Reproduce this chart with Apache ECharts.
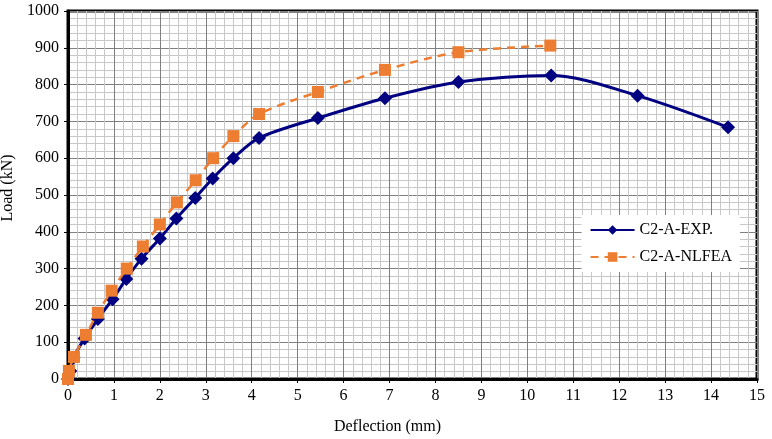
<!DOCTYPE html>
<html>
<head>
<meta charset="utf-8">
<script src="https://cdn.jsdelivr.net/npm/echarts@6/dist/echarts.min.js"></script>
<style>html,body{margin:0;padding:0;background:#fff}#c{width:772px;height:439px}</style>
</head>
<body>
<div id="c"></div>
<script>
const expX = [0, 0.05, 0.12, 0.36, 0.65, 0.97, 1.27, 1.6, 2.0, 2.36, 2.77, 3.15, 3.6, 4.16, 5.44, 6.9, 8.5, 10.52, 12.4, 14.37];
const expY = [0, 22, 58, 110, 163, 217, 272, 327, 382, 436, 492, 545, 600, 655, 709, 763, 807, 825, 770, 684];
const feaX = [0, 0.02, 0.13, 0.39, 0.65, 0.95, 1.28, 1.63, 2.0, 2.37, 2.78, 3.16, 3.6, 4.16, 5.44, 6.9, 8.5, 10.5];
const feaY = [0, 22, 60, 120, 180, 240, 300, 360, 420, 480, 540, 600, 660, 720, 780, 840, 888, 906];
const xLabel = 'Deflection (mm)';
const yLabel = 'Load (kN)';
const seriesNames = ['C2-A-EXP.', 'C2-A-NLFEA'];

const font = '"Liberation Serif", "Times New Roman", serif';
const chart = echarts.init(document.getElementById('c'));
chart.setOption({
  animation: false,
  backgroundColor: '#fff',
  grid: {left: 68, right: 15, top: 11, bottom: 60, containLabel: false, outerBoundsMode: 'none', show: true, borderColor: '#000', borderWidth: 3, backgroundColor: 'transparent'},
  legend: {
    show: true, right: 32, top: 215, orient: 'vertical', backgroundColor: '#fff', padding: [7, 8, 7, 8], itemGap: 11,
    itemWidth: 44, itemHeight: 12,
    textStyle: {fontFamily: font, fontSize: 16, color: '#000'},
    data: [{name: seriesNames[0]}, {name: seriesNames[1]}]
  },
  xAxis: {
    type: 'value', min: 0, max: 15, interval: 1,
    name: xLabel, nameLocation: 'middle', nameGap: 40,
    nameTextStyle: {fontFamily: font, fontSize: 16, color: '#000', padding: [0, 50, 0, 0]},
    axisLine: {show: true, onZero: false, lineStyle: {color: '#000', width: 3}},
    axisTick: {show: true, inside: false, length: 4, lineStyle: {color: '#000'}},
    axisLabel: {fontFamily: font, fontSize: 16, color: '#000', margin: 9},
    splitLine: {show: true, lineStyle: {color: '#808080', width: 1}},
    minorTick: {show: true, splitNumber: 5, length: 0},
    minorSplitLine: {show: true, lineStyle: {color: '#c8c8c8', width: 1}}
  },
  yAxis: {
    type: 'value', min: 0, max: 1000, interval: 100,
    name: yLabel, nameLocation: 'middle', nameGap: 48,
    nameTextStyle: {fontFamily: font, fontSize: 16, color: '#000', padding: [0, 0, 0, 14]},
    axisLine: {show: true, onZero: false, lineStyle: {color: '#000', width: 3}},
    axisTick: {show: true, inside: false, length: 4, lineStyle: {color: '#000'}},
    axisLabel: {fontFamily: font, fontSize: 16, color: '#000', margin: 9, formatter: v => String(v)},
    splitLine: {show: true, lineStyle: {color: '#808080', width: 1}},
    minorTick: {show: true, splitNumber: 5, length: 0},
    minorSplitLine: {show: true, lineStyle: {color: '#c8c8c8', width: 1}}
  },
  series: [
    {
      name: seriesNames[0], type: 'line', smooth: 0.3,
      data: expX.map((x, i) => [x, expY[i]]),
      symbol: 'diamond', symbolSize: 14,
      itemStyle: {color: '#000080'},
      lineStyle: {color: '#000080', width: 3},
      z: 3
    },
    {
      name: seriesNames[1], type: 'line', smooth: 0.3,
      data: feaX.map((x, i) => [x, feaY[i]]),
      symbol: 'rect', symbolSize: 12,
      itemStyle: {color: '#ED7D31'},
      lineStyle: {color: '#ED7D31', width: 2.5, type: [8, 6]},
      z: 4
    }
  ]
});
</script>
</body>
</html>
